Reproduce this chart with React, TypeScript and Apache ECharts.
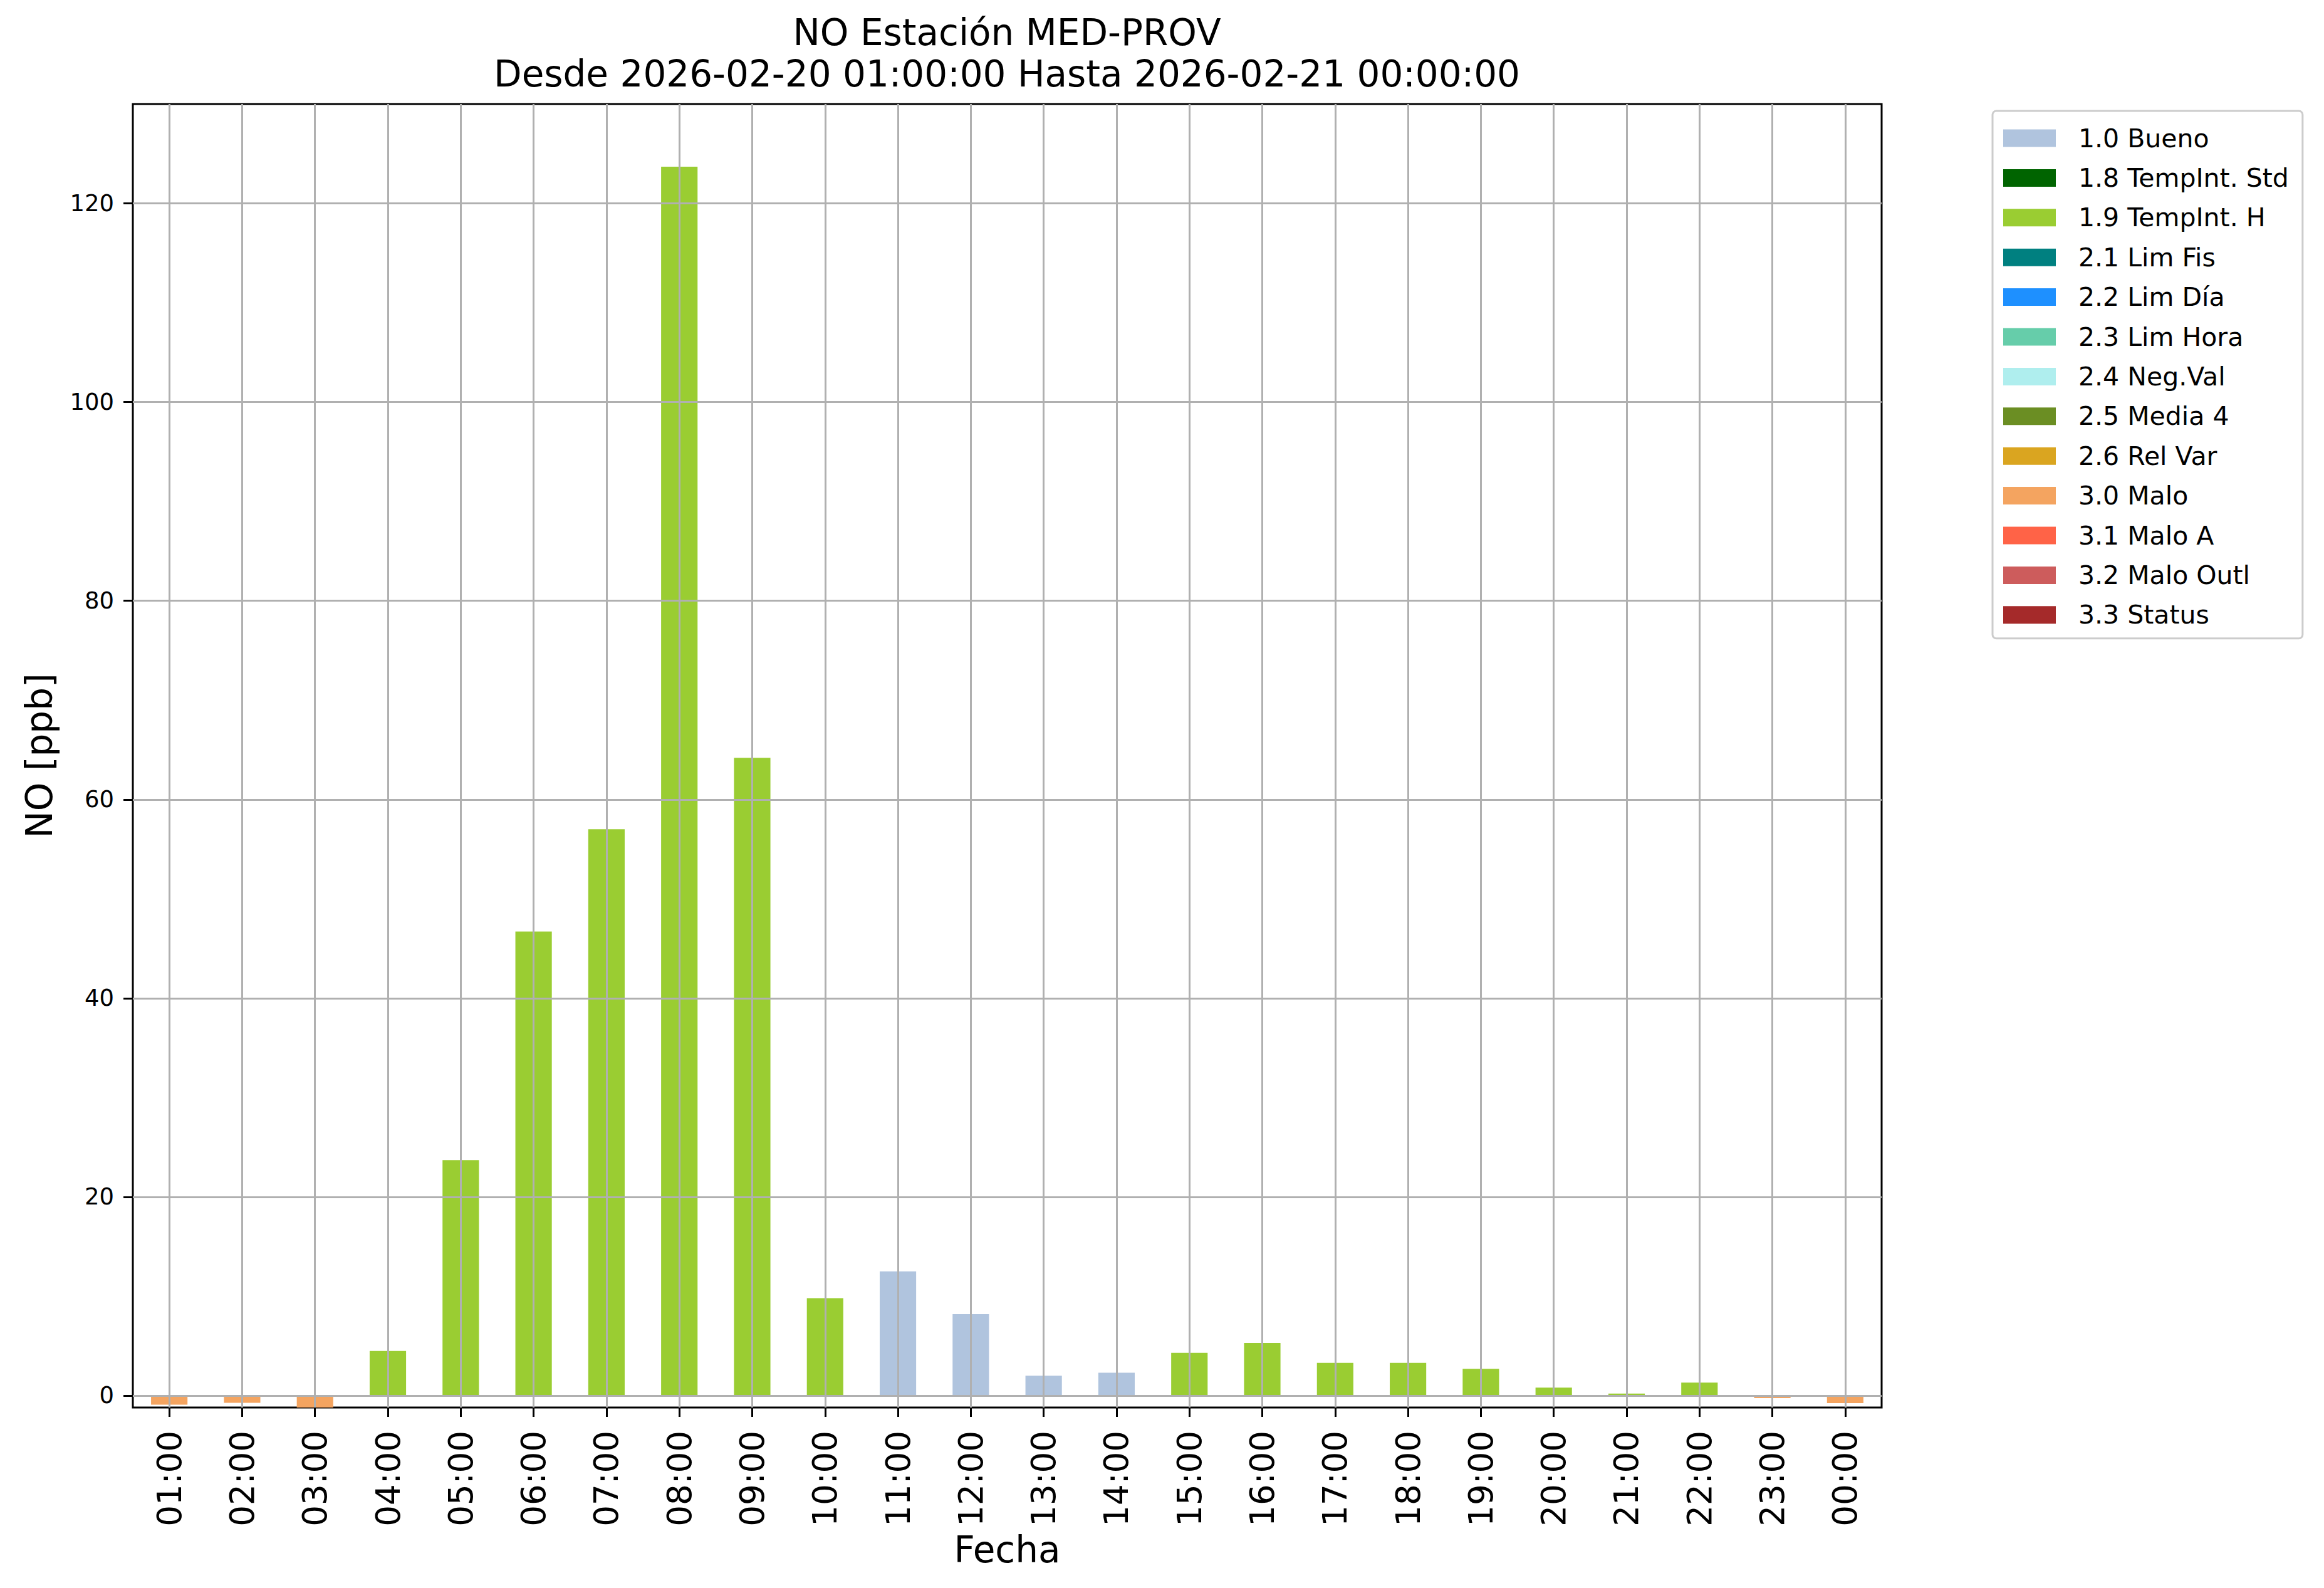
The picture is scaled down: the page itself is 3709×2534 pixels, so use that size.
import React, { useEffect, useRef } from "react";
import * as echarts from "echarts";

const categories = ["01:00","02:00","03:00","04:00","05:00","06:00","07:00","08:00","09:00","10:00","11:00","12:00","13:00","14:00","15:00","16:00","17:00","18:00","19:00","20:00","21:00","22:00","23:00","00:00"];
const values = [-0.92, -0.73, -1.5, 4.5, 23.7, 46.7, 57.0, 123.7, 64.2, 9.8, 12.5, 8.2, 2.0, 2.3, 4.3, 5.3, 3.3, 3.3, 2.7, 0.8, 0.2, 1.3, -0.25, -0.76];
const hourFlags = ["3.0","3.0","3.0","1.9","1.9","1.9","1.9","1.9","1.9","1.9","1.0","1.0","1.0","1.0","1.9","1.9","1.9","1.9","1.9","1.9","1.9","1.9","3.0","3.0"];
const flagCodes = ["1.0","1.8","1.9","2.1","2.2","2.3","2.4","2.5","2.6","3.0","3.1","3.2","3.3"];
const flagNames = ["1.0 Bueno","1.8 TempInt. Std","1.9 TempInt. H","2.1 Lim Fis","2.2 Lim Día","2.3 Lim Hora","2.4 Neg.Val","2.5 Media 4","2.6 Rel Var","3.0 Malo","3.1 Malo A","3.2 Malo Outl","3.3 Status"];
const flagColors = ["#B0C4DE","#006400","#9ACD32","#008080","#1E90FF","#66CDAA","#AFEEEE","#6B8E23","#DAA520","#F4A460","#FF6347","#CD5C5C","#A52A2A"];
const yTicks = [0, 20, 40, 60, 80, 100, 120];
const yMin = -1.2;
const yMax = 130;
const titleLines = ["NO Estación MED-PROV", "Desde 2026-02-20 01:00:00 Hasta 2026-02-21 00:00:00"];

const FONT = "DejaVu Sans";

export default function App() {
  const ref = useRef<HTMLDivElement>(null);
  useEffect(() => {
    if (!ref.current) return;
    const chart = echarts.init(ref.current, null, { renderer: "svg" });
    const gridColor = "#b0b0b0";
    const series: any[] = flagCodes.map((code, k) => ({
      name: flagNames[k],
      type: "bar",
      stack: "total",
      barWidth: "50%",
      itemStyle: { color: flagColors[k] },
      data: values.map((v, i) => (hourFlags[i] === code ? v : "-")),
    }));
    series[series.length - 1].markLine = {
      silent: true,
      symbol: "none",
      z: 5,
      label: { show: false },
      lineStyle: { color: gridColor, width: 3, type: "solid" },
      data: [
        ...yTicks.map((v) => ({ yAxis: v })),
        ...categories.map((c) => ({ xAxis: c })),
      ],
    };
    chart.setOption({
      animation: false,
      backgroundColor: "#ffffff",
      textStyle: { fontFamily: FONT },
      grid: {
        left: 212,
        right: 706,
        top: 166,
        bottom: 288,
        show: true,
        borderColor: "#000",
        borderWidth: 3,
        backgroundColor: "transparent",
      },
      legend: {
        orient: "vertical",
        left: 3180,
        top: 177,
        icon: "rect",
        itemWidth: 84,
        itemHeight: 28,
        itemGap: 22.4,
        padding: [23, 22, 17, 17],
        borderColor: "#cccccc",
        borderWidth: 3,
        borderRadius: 6,
        selectedMode: false,
        textStyle: { fontSize: 41, color: "#000", fontFamily: FONT, padding: [0, 0, 0, 31] },
        data: flagNames,
      },
      xAxis: {
        type: "category",
        data: categories,
        boundaryGap: true,
        name: "Fecha",
        nameLocation: "middle",
        nameGap: 190,
        nameTextStyle: { fontSize: 58, color: "#000", fontFamily: FONT },
        axisLine: { show: false, onZero: false },
        axisTick: { show: true, alignWithLabel: true, length: 15, lineStyle: { color: "#000", width: 3 } },
        axisLabel: { rotate: 90, fontSize: 53, color: "#000", margin: 37, fontFamily: FONT },
        splitLine: { show: false },
      },
      yAxis: {
        type: "value",
        min: yMin,
        max: yMax,
        name: "NO [ppb]",
        nameLocation: "middle",
        nameGap: 120,
        nameTextStyle: { fontSize: 58, color: "#000", fontFamily: FONT },
        axisLine: { show: false },
        axisTick: { show: true, length: 15, lineStyle: { color: "#000", width: 3 }, customValues: yTicks },
        axisLabel: { fontSize: 37, color: "#000", margin: 30, fontFamily: FONT, customValues: yTicks },
        splitLine: { show: false },
      },
      graphic: titleLines.map((t, i) => ({
        type: "text",
        x: 1607,
        y: 52 + i * 66,
        style: {
          text: t,
          fontSize: 58,
          fontFamily: FONT,
          fill: "#000",
          textAlign: "center",
          textVerticalAlign: "middle",
        },
      })),
      series,
    });
    return () => chart.dispose();
  }, []);
  return (
    <div
      ref={ref}
      style={{ position: "fixed", left: 0, top: 0, width: 3709, height: 2534 }}
    />
  );
}
